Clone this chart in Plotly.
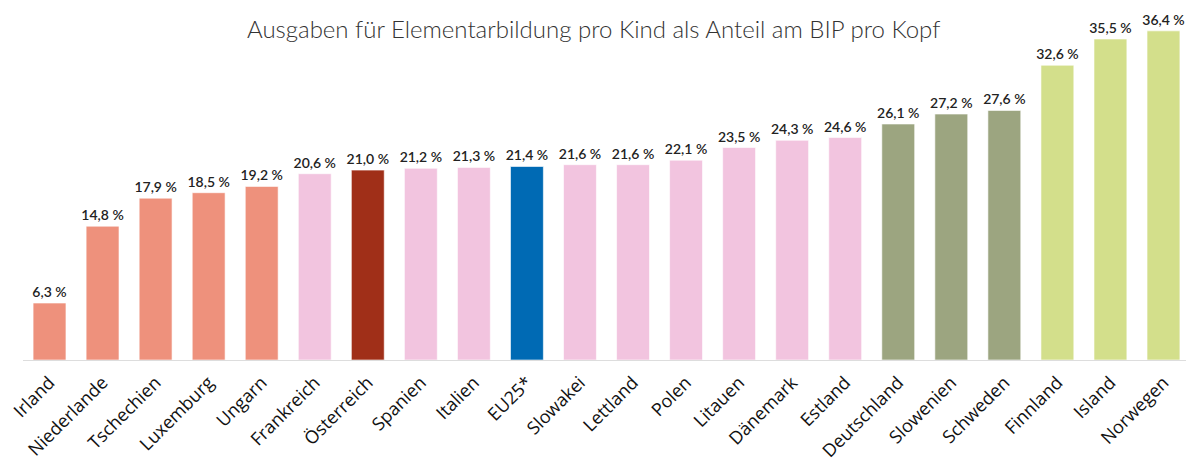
import plotly.graph_objects as go

countries = ["Irland", "Niederlande", "Tschechien", "Luxemburg", "Ungarn", "Frankreich",
             "Österreich", "Spanien", "Italien", "EU25*", "Slowakei", "Lettland", "Polen",
             "Litauen", "Dänemark", "Estland", "Deutschland", "Slowenien", "Schweden",
             "Finnland", "Island", "Norwegen"]
values = [6.3, 14.8, 17.9, 18.5, 19.2, 20.6, 21.0, 21.2, 21.3, 21.4, 21.6, 21.6, 22.1,
          23.5, 24.3, 24.6, 26.1, 27.2, 27.6, 32.6, 35.5, 36.4]
groups = ["a"] * 5 + ["b", "at", "b", "b", "eu"] + ["b"] * 6 + ["c"] * 3 + ["d"] * 3

palette = {"a": "#EE917C", "b": "#F2C4DF", "at": "#A02F18", "eu": "#006AB4",
           "c": "#9CA580", "d": "#D3DF8B"}
colors = [palette[g] for g in groups]
labels = [f"{v:.1f}".replace(".", ",") + " %" for v in values]

# page body has an 8px margin, compensate in the figure margins
L, R, T, B = 15, 12, 12, 115
W, H = 1194, 467
plot_w = W - L - R
plot_h = H - T - B

fig = go.Figure(go.Bar(
    x=countries, y=values,
    marker=dict(color=colors, line=dict(color="rgba(255,255,255,0.6)", width=1)),
    text=labels, textposition="outside", cliponaxis=False, constraintext="none",
    textfont=dict(family="Lato", size=14, color="#222222", weight=600),
    width=0.62,
))

fig.update_layout(
    width=W, height=H,
    margin=dict(l=L, r=R, t=T, b=B, autoexpand=False),
    plot_bgcolor="white", paper_bgcolor="white",
    showlegend=False,
    annotations=[dict(text="Ausgaben für Elementarbildung pro Kind als Anteil am BIP pro Kopf",
                      x=(585 - L) / plot_w, y=(H - B - 20) / plot_h,
                      xref="paper", yref="paper", xanchor="center", yanchor="middle",
                      showarrow=False,
                      font=dict(family="Lato", size=24, color="#333333", weight=300))],
)

fig.update_xaxes(tickangle=-45, tickfont=dict(family="Open Sans", size=18, color="#111111"),
                 showline=True, linecolor="#dddddd", linewidth=1,
                 ticks="outside", ticklen=4, tickcolor="rgba(0,0,0,0)", showgrid=False,
                 automargin=False)
fig.update_yaxes(range=[0, 37.6], visible=False, showgrid=False, automargin=False)

fig.write_html("out.html")
